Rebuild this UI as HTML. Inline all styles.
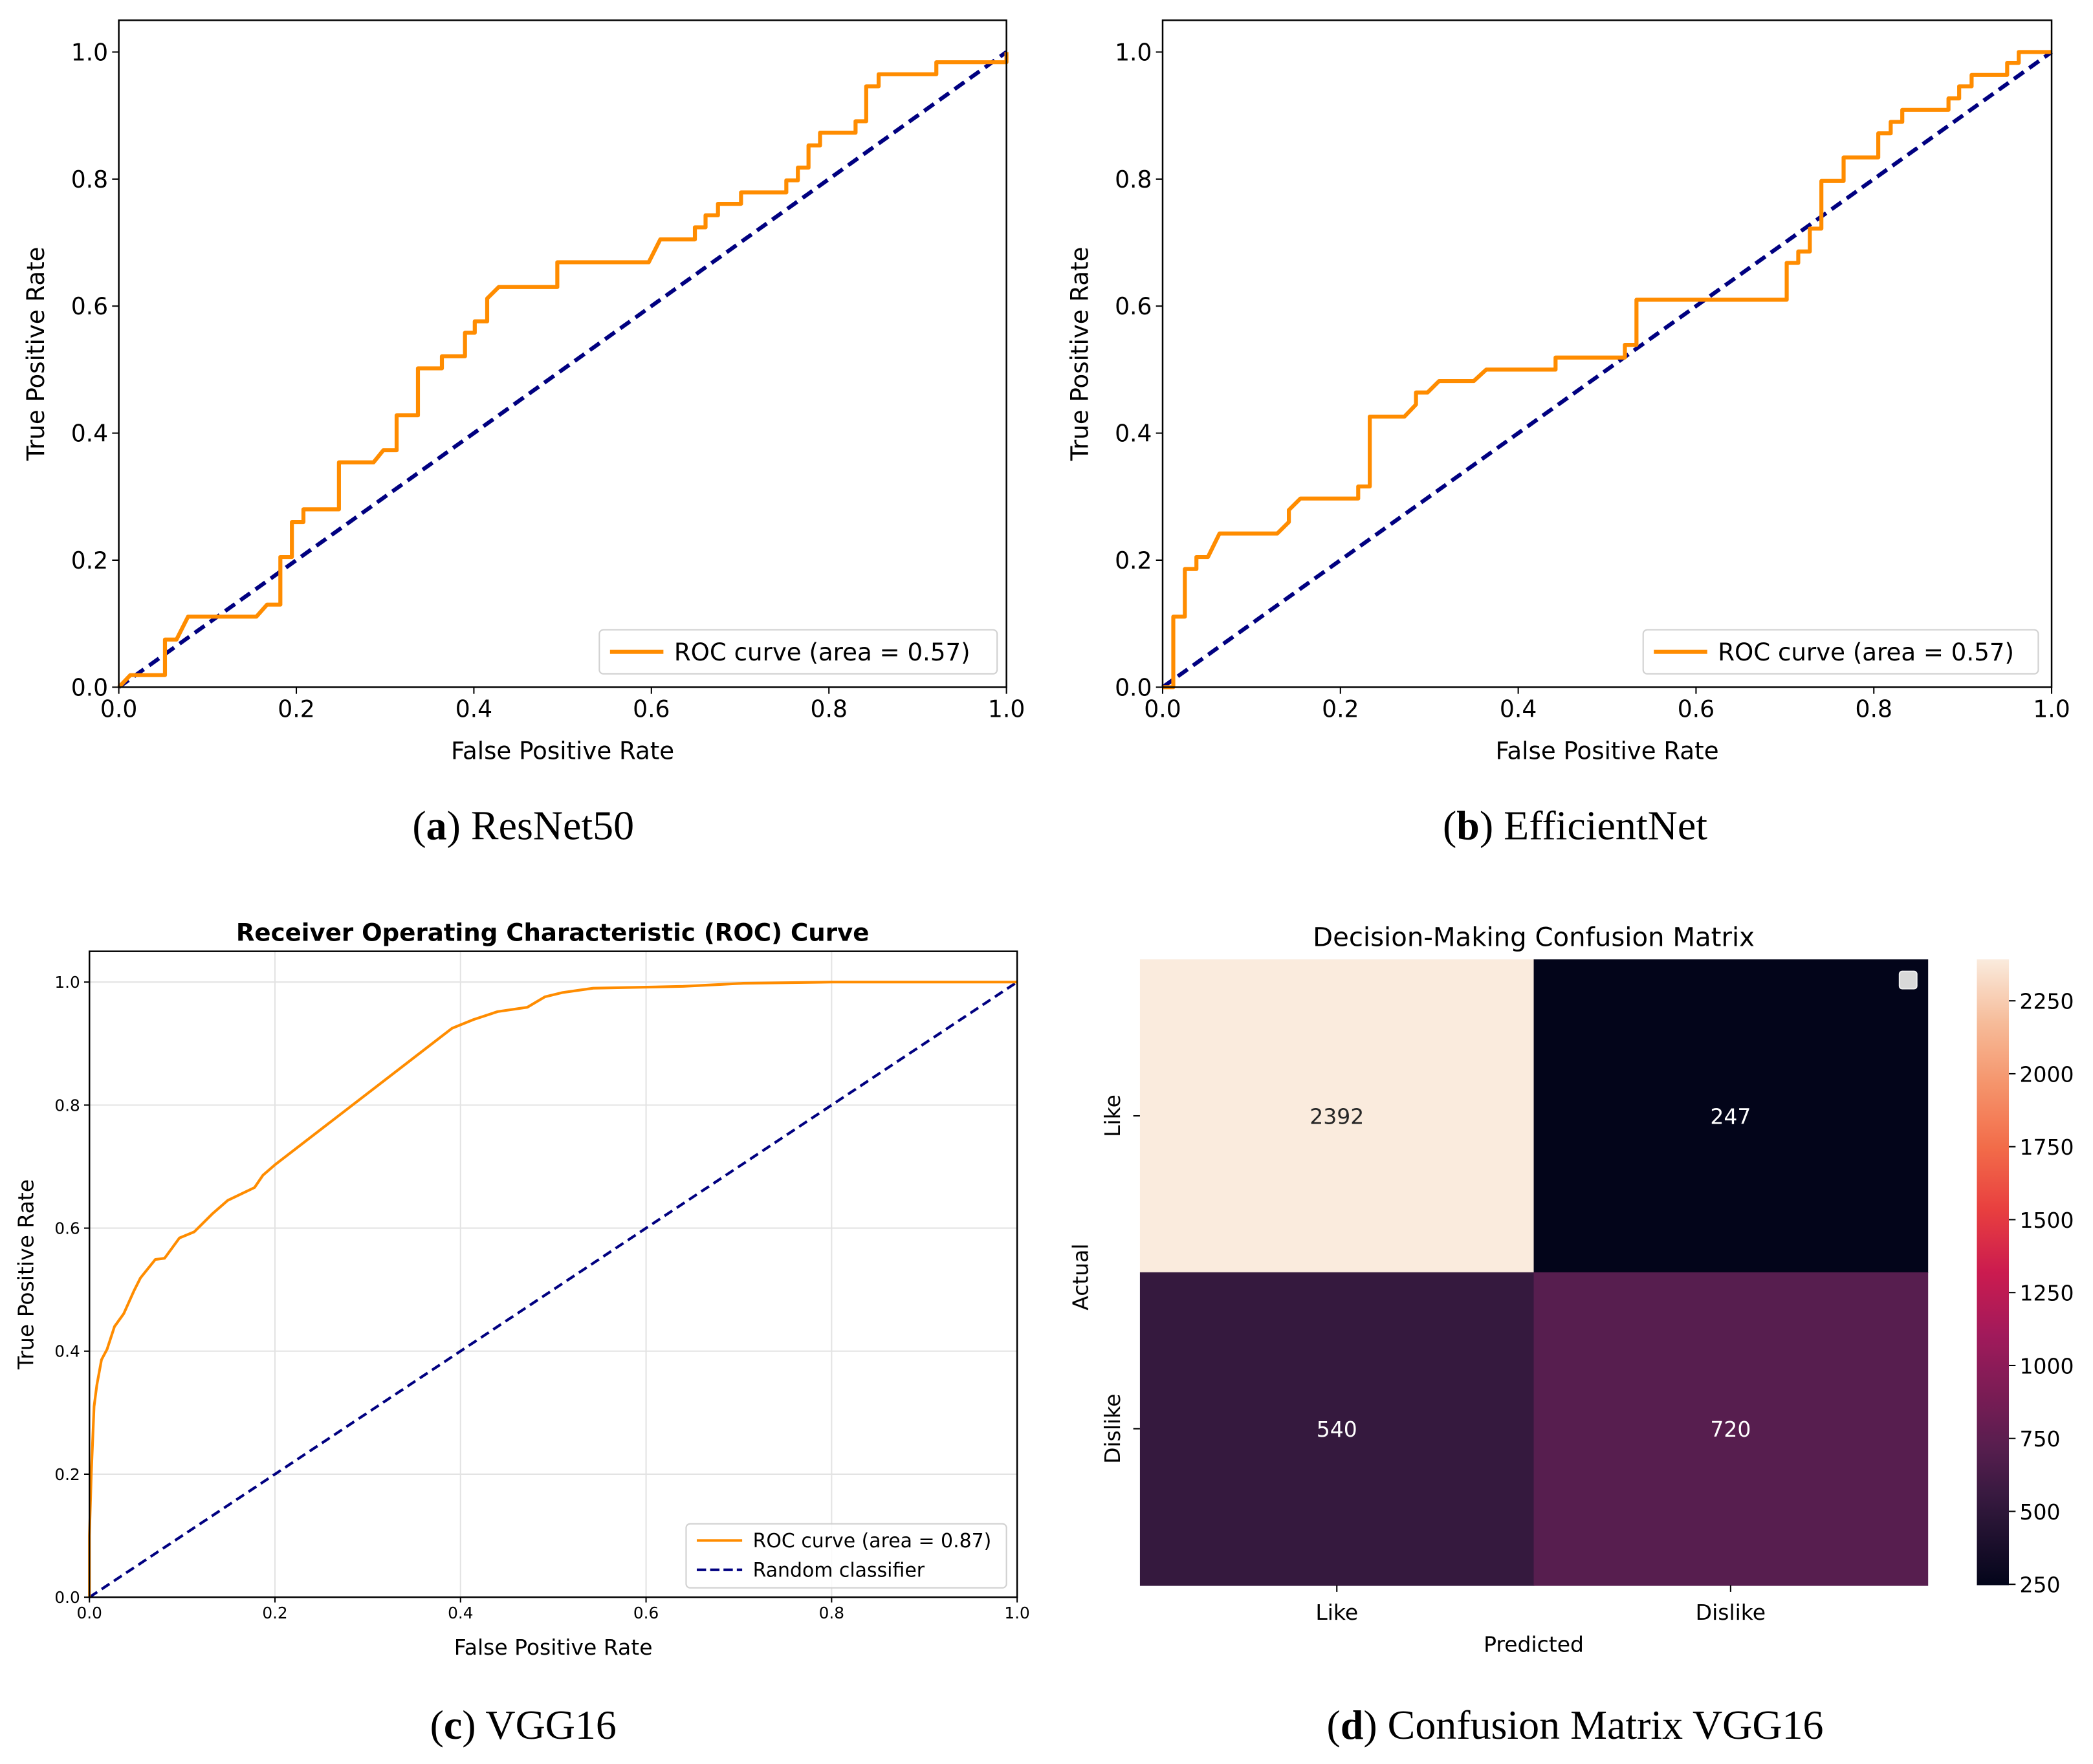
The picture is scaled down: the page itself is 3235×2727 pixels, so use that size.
<!DOCTYPE html>
<html><head><meta charset="utf-8">
<style>
html,body{margin:0;padding:0;background:#fff;}
svg{display:block;}
text{font-family:"DejaVu Sans","Liberation Sans",sans-serif;fill:#000;}
.cap{font-family:"Liberation Serif","DejaVu Serif",serif;}
</style></head>
<body>
<svg id="fig" xmlns="http://www.w3.org/2000/svg" width="3235" height="2727" viewBox="0 0 1568 1322" preserveAspectRatio="none">
<g id="pa"></g>
<g id="pb"></g>
<g id="pc"></g>
<g id="pd"></g>
<text class="cap" x="392" y="629" font-size="31" text-anchor="middle">(<tspan font-weight="bold">a</tspan>) ResNet50</text>
<text class="cap" x="1180" y="629" font-size="31" text-anchor="middle">(<tspan font-weight="bold">b</tspan>) EfficientNet</text>
<text class="cap" x="392" y="1303" font-size="31" text-anchor="middle">(<tspan font-weight="bold">c</tspan>) VGG16</text>
<text class="cap" x="1180" y="1303" font-size="31" text-anchor="middle">(<tspan font-weight="bold">d</tspan>) Confusion Matrix VGG16</text>
</svg>
<script>
// ---- data ----
const resnetFpr = [0,0.013,0.052,0.052,0.065,0.078,0.155,0.167,0.182,0.182,0.195,0.195,0.208,0.208,0.248,0.248,0.287,0.298,0.313,0.313,0.337,0.337,0.364,0.364,0.39,0.39,0.401,0.401,0.415,0.415,0.428,0.494,0.494,0.597,0.61,0.649,0.649,0.661,0.661,0.675,0.675,0.701,0.701,0.752,0.752,0.765,0.765,0.777,0.777,0.79,0.79,0.83,0.83,0.842,0.842,0.856,0.856,0.921,0.921,1.0,1.0];
const resnetTpr = [0,0.019,0.019,0.075,0.075,0.111,0.111,0.13,0.13,0.205,0.205,0.26,0.26,0.28,0.28,0.354,0.354,0.373,0.373,0.428,0.428,0.502,0.502,0.521,0.521,0.558,0.558,0.576,0.576,0.612,0.63,0.63,0.669,0.669,0.705,0.705,0.724,0.724,0.743,0.743,0.761,0.761,0.779,0.779,0.798,0.798,0.818,0.818,0.853,0.853,0.873,0.873,0.891,0.891,0.946,0.946,0.965,0.965,0.984,0.984,1.0];
const effFpr = [0,0.012,0.012,0.025,0.025,0.038,0.038,0.051,0.064,0.129,0.142,0.142,0.155,0.22,0.22,0.233,0.233,0.272,0.285,0.285,0.298,0.311,0.35,0.364,0.442,0.442,0.52,0.52,0.533,0.533,0.702,0.702,0.715,0.715,0.728,0.728,0.741,0.741,0.766,0.766,0.805,0.805,0.819,0.819,0.832,0.832,0.884,0.884,0.896,0.896,0.91,0.91,0.95,0.95,0.963,0.963,1.0];
const effTpr = [0,0,0.111,0.111,0.186,0.186,0.205,0.205,0.242,0.242,0.26,0.279,0.297,0.297,0.316,0.316,0.426,0.426,0.445,0.464,0.464,0.482,0.482,0.5,0.5,0.519,0.519,0.539,0.539,0.61,0.61,0.668,0.668,0.686,0.686,0.722,0.722,0.797,0.797,0.834,0.834,0.872,0.872,0.89,0.89,0.909,0.909,0.927,0.927,0.946,0.946,0.964,0.964,0.983,0.983,1.0,1.0];
const vggFpr = [0,0,0.002,0.005,0.008,0.013,0.019,0.027,0.037,0.048,0.055,0.071,0.081,0.097,0.113,0.133,0.149,0.178,0.187,0.2,0.391,0.414,0.44,0.472,0.491,0.51,0.543,0.64,0.705,0.8,1.0];
const vggTpr = [0,0.1,0.2,0.31,0.345,0.386,0.403,0.44,0.461,0.498,0.519,0.549,0.551,0.584,0.594,0.624,0.645,0.666,0.686,0.703,0.925,0.939,0.952,0.959,0.976,0.983,0.99,0.993,0.998,1.0,1.0];
const rocTicks = [0,0.2,0.4,0.6,0.8,1.0];
const rocTickLabels = ["0.0","0.2","0.4","0.6","0.8","1.0"];
const cmRows = ["Like","Dislike"];
const cmCols = ["Like","Dislike"];
const cmValues = [[2392,247],[540,720]];
const cbTicks = [250,500,750,1000,1250,1500,1750,2000,2250];

const NS="http://www.w3.org/2000/svg";
function mk(parent, tag, attrs, text){
  const e=document.createElementNS(NS,tag);
  for(const k in attrs) e.setAttribute(k,attrs[k]);
  if(text!==undefined) e.textContent=text;
  parent.appendChild(e); return e;
}

function rocPanel(g, box, opts){
  const sx=v=>box.x0+v*(box.x1-box.x0);
  const sy=v=>box.y0-v*(box.y0-box.y1);
  const top=sy(1.05);
  if(opts.grid){
    rocTicks.forEach(t=>{
      const gl=mk(g,'line',{x1:sx(t),x2:sx(t),y1:top,y2:box.y0,stroke:'#e3e3e3','stroke-width':1});
      
      
      const gh=mk(g,'line',{x1:box.x0,x2:box.x1,y1:sy(t),y2:sy(t),stroke:'#e3e3e3','stroke-width':1});
      
      
    });
  }
  const d=mk(g,'line',{x1:sx(0),y1:sy(0),x2:sx(1),y2:sy(1),stroke:'#000080','stroke-width':opts.dlw,'stroke-dasharray':opts.dash});
  
  
  const pts=opts.fpr.map((f,i)=>sx(f).toFixed(2)+','+sy(opts.tpr[i]).toFixed(2)).join(' ');
  const c=mk(g,'polyline',{points:pts,fill:'none',stroke:'#ff8c00','stroke-width':opts.lw,'stroke-linejoin':'round'});
  
  
  const fr=mk(g,'rect',{x:box.x0,y:top,width:box.x1-box.x0,height:box.y0-top,fill:'none',stroke:'#000','stroke-width':1.2});
  
  
  rocTicks.forEach((t,i)=>{
    mk(g,'line',{x1:sx(t),x2:sx(t),y1:box.y0,y2:box.y0+opts.tl,stroke:'#000','stroke-width':1});
    const xl=mk(g,'text',{x:sx(t),y:box.y0+opts.tl+opts.fs,'font-size':opts.fs,'text-anchor':'middle'},rocTickLabels[i]);
    
    
    mk(g,'line',{x1:box.x0-opts.tl,x2:box.x0,y1:sy(t),y2:sy(t),stroke:'#000','stroke-width':1});
    const yl=mk(g,'text',{x:box.x0-opts.tl-3,y:sy(t)+opts.fs*0.36,'font-size':opts.fs,'text-anchor':'end'},rocTickLabels[i]);
    
    
  });
  const xt=mk(g,'text',{x:(box.x0+box.x1)/2,y:opts.xlY,'font-size':opts.lfs,'text-anchor':'middle'},'False Positive Rate');
  
  
  const yc=(box.y0+top)/2;
  const yt=mk(g,'text',{x:opts.ylX,y:yc,'font-size':opts.lfs,'text-anchor':'middle',transform:`rotate(-90 ${opts.ylX} ${yc})`},'True Positive Rate');
  
  
  const L=opts.leg;
  const lg=mk(g,'g',{});
  
  
  mk(lg,'rect',{x:L.x,y:L.y,width:L.w,height:L.h,rx:3,fill:'#fff','fill-opacity':0.85,stroke:'#d0d0d0','stroke-width':1});
  L.items.forEach((it,i)=>{
    const yy=L.y+L.pad+i*L.step;
    mk(lg,'line',{x1:L.x+8,x2:L.x+8+L.sw,y1:yy,y2:yy,stroke:it.c,'stroke-width':it.lw,'stroke-dasharray':it.dash||'none'});
    const t=mk(lg,'text',{x:L.x+16+L.sw,y:yy+L.fs*0.36,'font-size':L.fs},it.t);
    
    
  });
}

rocPanel(document.getElementById('pa'),{x0:89,x1:754,y0:515,y1:39},{fpr:resnetFpr,tpr:resnetTpr,lw:3,dlw:3,dash:'9,5',tl:5,fs:17.5,lfs:18,xlY:569,ylX:33,
  leg:{x:449,y:472,w:298,h:33,pad:16.5,step:0,sw:40,fs:18,items:[{t:'ROC curve (area = 0.57)',c:'#ff8c00',lw:3}]}});
rocPanel(document.getElementById('pb'),{x0:871,x1:1537,y0:515,y1:39},{fpr:effFpr,tpr:effTpr,lw:3,dlw:3,dash:'9,5',tl:5,fs:17.5,lfs:18,xlY:569,ylX:815,
  leg:{x:1231,y:472,w:296,h:33,pad:16.5,step:0,sw:40,fs:18,items:[{t:'ROC curve (area = 0.57)',c:'#ff8c00',lw:3}]}});
rocPanel(document.getElementById('pc'),{x0:67,x1:762,y0:1197,y1:736},{fpr:vggFpr,tpr:vggTpr,lw:2,dlw:2,dash:'7,4',tl:4,fs:12,lfs:16,xlY:1240,ylX:25,grid:true,
  leg:{x:514,y:1142,w:240,h:48,pad:12.5,step:22,sw:34,fs:14.5,items:[{t:'ROC curve (area = 0.87)',c:'#ff8c00',lw:2},{t:'Random classifier',c:'#000080',lw:2,dash:'7,3'}]}});
(function(){
  const g=document.getElementById('pc');
  const t=mk(g,'text',{x:414,y:705,'font-size':18,'font-weight':'bold','text-anchor':'middle'},'Receiver Operating Characteristic (ROC) Curve');
  
  
})();

// ---- confusion matrix ----
const stops=[[0,'#03051a'],[0.137,'#35193e'],[0.22,'#571e4f'],[0.4,'#a11a5b'],[0.5,'#cb1b4f'],[0.6,'#e83f3f'],[0.7,'#f26c49'],[0.8,'#f5946b'],[0.9,'#f6bc9a'],[1,'#faebdd']];
function hex(h){return [1,3,5].map(i=>parseInt(h.substr(i,2),16));}
function cmap(t){
  t=Math.max(0,Math.min(1,t));
  for(let i=1;i<stops.length;i++){
    if(t<=stops[i][0]){
      const a=hex(stops[i-1][1]),b=hex(stops[i][1]);const f=(t-stops[i-1][0])/(stops[i][0]-stops[i-1][0]);
      return 'rgb('+a.map((v,k)=>Math.round(v+(b[k]-v)*f)).join(',')+')';
    }
  }
  return stops[stops.length-1][1];
}
(function(){
  const g=document.getElementById('pd');
  const X0=854,X1=1444,Y0=719,Y1=1188;
  const flat=cmValues.flat();
  const vmin=Math.min(...flat),vmax=Math.max(...flat);
  const cw=(X1-X0)/cmCols.length,ch=(Y1-Y0)/cmRows.length;
  cmValues.forEach((row,r)=>row.forEach((v,c)=>{
    const t=(v-vmin)/(vmax-vmin);
    const rc=mk(g,'rect',{x:X0+c*cw,y:Y0+r*ch,width:cw+0.5,height:ch+0.5,fill:cmap(t)});
    
    
    const tx=mk(g,'text',{x:X0+(c+0.5)*cw,y:Y0+(r+0.5)*ch+6,'font-size':16,'text-anchor':'middle',style:'fill:'+(t>0.6?'#262626':'#ffffff')},String(v));
    
    
  }));
  cmCols.forEach((l,c)=>{
    const x=X0+(c+0.5)*cw;
    mk(g,'line',{x1:x,x2:x,y1:Y1,y2:Y1+5,stroke:'#000'});
    const t=mk(g,'text',{x:x,y:Y1+26,'font-size':16,'text-anchor':'middle'},l);
    
    
  });
  cmRows.forEach((l,r)=>{
    const y=Y0+(r+0.5)*ch;
    mk(g,'line',{x1:X0-5,x2:X0,y1:y,y2:y,stroke:'#000'});
    const t=mk(g,'text',{x:839,y:y,'font-size':16,'text-anchor':'middle',transform:`rotate(-90 839 ${y})`},l);
    
    
  });
  const xt=mk(g,'text',{x:(X0+X1)/2,y:1238,'font-size':16,'text-anchor':'middle'},'Predicted');
  
  
  const yt=mk(g,'text',{x:815,y:957,'font-size':16,'text-anchor':'middle',transform:'rotate(-90 815 957)'},'Actual');
  
  
  const ti=mk(g,'text',{x:(X0+X1)/2,y:709,'font-size':19.5,'text-anchor':'middle'},'Decision-Making Confusion Matrix');
  
  
  const lgb=mk(g,'rect',{x:1423,y:728,width:13,height:13,rx:2,fill:'#d8d8d8',stroke:'#eeeeee'});
  
  
  const CX=1481,CW=24;
  const defs=mk(g,'defs',{});
  const gr=mk(defs,'linearGradient',{id:'cbg',x1:0,y1:1,x2:0,y2:0});
  for(let i=0;i<=40;i++){mk(gr,'stop',{offset:(i/40),'stop-color':cmap(i/40)});}
  const cb=mk(g,'rect',{x:CX,y:Y0,width:CW,height:Y1-Y0,fill:'url(#cbg)'});
  
  
  const cy=v=>Y1-(v-vmin)/(vmax-vmin)*(Y1-Y0);
  cbTicks.forEach(v=>{
    const y=cy(v);
    mk(g,'line',{x1:CX+CW,x2:CX+CW+5,y1:y,y2:y,stroke:'#000'});
    const t=mk(g,'text',{x:CX+CW+8,y:y+6,'font-size':16},String(v));
    
    
  });
})();
</script>
</body></html>
